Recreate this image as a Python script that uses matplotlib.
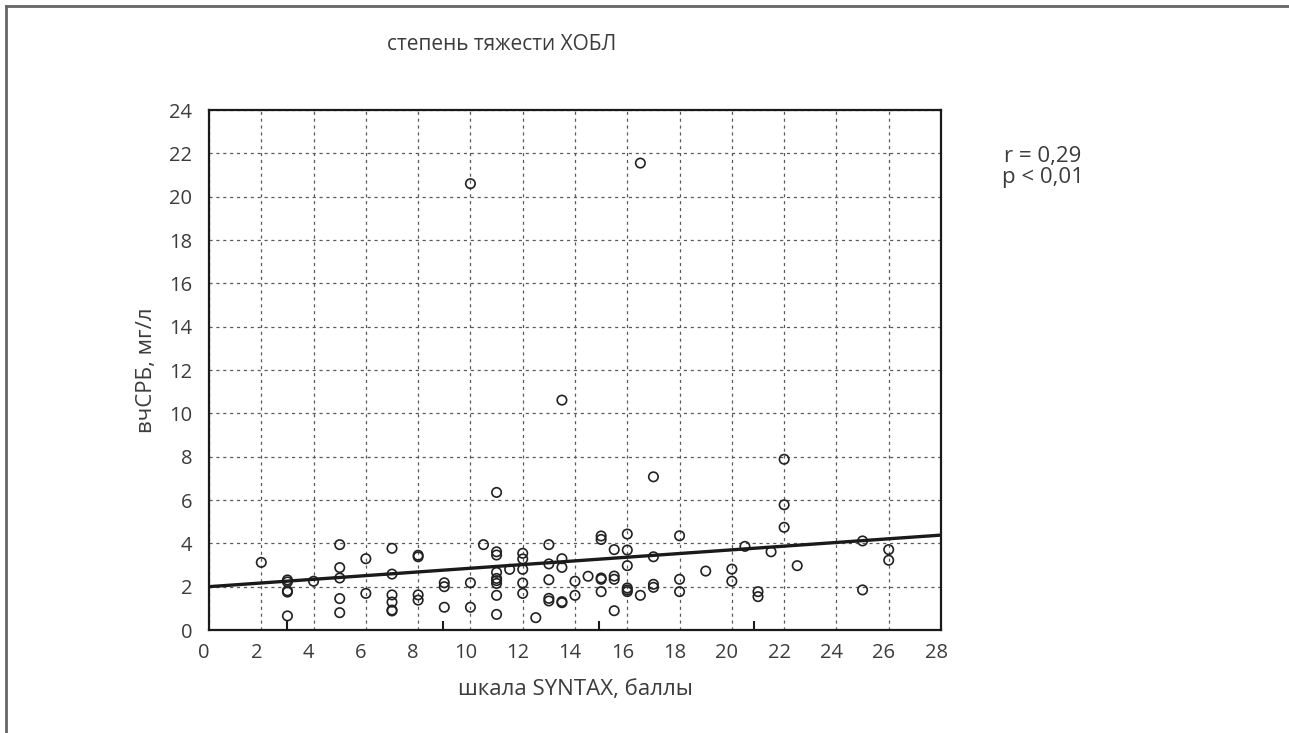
import numpy as np
import matplotlib.pyplot as plt
import matplotlib.transforms as mtransforms

plt.rcParams['font.family'] = ['Open Sans', 'DejaVu Sans']

# SYNTAX score (x) and hs-CRP, mg/l (y)
syntax = [2,
          3, 3, 3, 3, 3,
          4,
          5, 5, 5, 5, 5,
          6, 6,
          7, 7, 7, 7, 7, 7,
          8, 8, 8, 8,
          9, 9, 9,
          10, 10, 10,
          10.5,
          11, 11, 11, 11, 11, 11, 11, 11, 11,
          11.5,
          12, 12, 12, 12, 12,
          12.5,
          13, 13, 13, 13, 13,
          13.5, 13.5, 13.5, 13.5, 13.5,
          14, 14,
          14.5,
          15, 15, 15, 15, 15,
          15.5, 15.5, 15.5, 15.5,
          16, 16, 16, 16, 16, 16,
          16.5, 16.5,
          17, 17, 17, 17,
          18, 18, 18,
          19,
          20, 20,
          20.5,
          21, 21,
          21.5,
          22, 22, 22,
          22.5,
          25, 25,
          26, 26]
crp = [3.12,
       2.31, 2.22, 1.81, 1.75, 0.65,
       2.25,
       3.94, 2.88, 2.40, 1.45, 0.80,
       3.29, 1.69,
       3.77, 2.58, 1.62, 1.29, 0.92, 0.88,
       3.45, 3.38, 1.62, 1.38,
       2.18, 2.00, 1.05,
       2.18, 1.05, 20.6,
       3.94,
       3.61, 3.46, 2.66, 2.38, 2.28, 2.15, 1.60, 0.72, 6.35,
       2.80,
       3.54, 3.28, 2.80, 2.17, 1.69,
       0.57,
       3.94, 3.05, 2.32, 1.46, 1.34,
       3.29, 2.89, 1.31, 1.26, 10.61,
       2.25, 1.60,
       2.48,
       4.34, 4.18, 2.40, 2.34, 1.77,
       3.71, 2.49, 2.34, 0.89,
       4.43, 3.69, 2.97, 1.94, 1.85, 1.77,
       1.60, 21.55,
       3.38, 2.11, 1.97, 7.07,
       4.35, 2.34, 1.77,
       2.72,
       2.81, 2.25,
       3.86,
       1.77, 1.54,
       3.61,
       7.88, 5.78, 4.74,
       2.97,
       4.11, 1.85,
       3.71, 3.22]

# regression line ends
fit_x = [0, 28]
fit_y = [2.0, 4.38]

x_ticks = list(range(0, 29, 2))
y_ticks = list(range(0, 25, 2))
stub_ticks = [3.0, 8.95, 14.9, 20.85]

txt = '#3c3c3c'

fig = plt.figure(figsize=(12.89, 7.33), dpi=100)
ax = fig.add_axes([209/1289, 1 - 630/733, (941 - 209)/1289, (630 - 110)/733])

ax.scatter(syntax, crp, s=46, facecolors='none', edgecolors='#222222',
           linewidths=1.2, zorder=3)
ax.plot(fit_x, fit_y, color='#1a1a1a', lw=2.4, zorder=4)

ax.set_xlim(0, 28)
ax.set_ylim(0, 24)
ax.set_xticks(x_ticks)
ax.set_yticks(y_ticks)
ax.set_xticks(stub_ticks, minor=True)
ax.tick_params(which='major', length=0, labelsize=14.5, labelcolor=txt)
ax.tick_params(axis='x', which='major', pad=9)
ax.tick_params(axis='y', which='major', pad=12)
ax.tick_params(axis='x', which='minor', direction='in', length=6.5,
               width=1.5, color='#1a1a1a')
ax.grid(which='major', color='#5a5a5a', linestyle=(0, (2.5, 3)), lw=0.9)

offset = mtransforms.ScaledTranslation(-5/100, 0, fig.dpi_scale_trans)
for lab in ax.get_xticklabels():
    lab.set_transform(lab.get_transform() + offset)

for s in ax.spines.values():
    s.set_linewidth(1.6)
    s.set_color('#1a1a1a')

ax.set_xlabel('шкала SYNTAX, баллы', fontsize=16, color=txt, labelpad=12)
ax.set_ylabel('вчСРБ, мг/л', fontsize=16, color=txt, labelpad=9)

fig.text(502/1289, 1 - 45/733, 'степень тяжести ХОБЛ', fontsize=15,
         color=txt, ha='center', va='center')
fig.text(1043/1289, 1 - 167/733, 'r = 0,29\np < 0,01', fontsize=16,
         color=txt, ha='center', va='center', linespacing=0.95)

# outer frame (only left and top edges visible)
fig.add_artist(plt.Line2D([6/1289, 6/1289], [0, 1 - 6/733],
                          color='#666666', lw=2, transform=fig.transFigure))
fig.add_artist(plt.Line2D([6/1289, 1], [1 - 6/733, 1 - 6/733],
                          color='#666666', lw=2, transform=fig.transFigure))

fig.savefig('out.png', dpi=100)
